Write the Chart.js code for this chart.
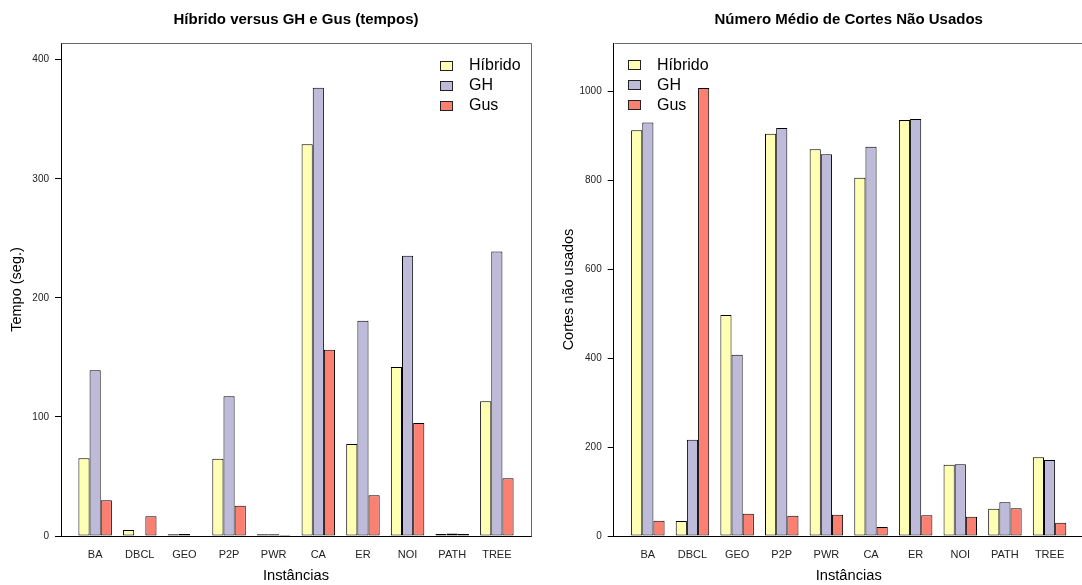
<!DOCTYPE html>
<html>
<head>
<meta charset="utf-8">
<script src="https://cdn.jsdelivr.net/npm/chart.js@4.4.1/dist/chart.umd.min.js"></script>
<style>
	html, body { margin: 0; padding: 0; background: #fff; overflow: hidden; width: 1082px; height: 585px; }
	#left { position: absolute; left: 0; top: 0; }
	#right { position: absolute; left: 541px; top: 0; }
</style>
</head>
<body>
<canvas id="left" width="541" height="585"></canvas>
<canvas id="right" width="560" height="585"></canvas>
<script>
const categories = ["BA", "DBCL", "GEO", "P2P", "PWR", "CA", "ER", "NOI", "PATH", "TREE"];
const seriesNames = ["Híbrido", "GH", "Gus"];

// tempos (seg.)
const tempoHibrido = [65.2, 5.0, 1.4, 64.9, 1.5, 328.9, 77.2, 141.9, 1.7, 113.1];
const tempoGH = [139.1, 0.5, 1.7, 117.3, 1.5, 376.4, 180.8, 235.3, 2.2, 239.0];
const tempoGus = [30.0, 16.5, 0.5, 25.5, 0.8, 156.4, 34.2, 94.9, 1.6, 48.4];
const tempoTicks = [0, 100, 200, 300, 400];

// cortes nao usados
const cortesHibrido = [912, 33.7, 496.6, 904, 869, 805, 935, 160, 61.4, 176.8];
const cortesGH = [929.6, 216.5, 407.5, 917, 857.7, 874.8, 937, 161, 75.7, 170.8];
const cortesGus = [34.4, 1007, 50.2, 45.7, 47.9, 20.2, 46.5, 43.4, 62.2, 30];
const cortesTicks = [0, 200, 400, 600, 800, 1000];

const colors = ["#FFFFB3", "#BEBADA", "#FB8072"];
const FONT = "'Liberation Sans', Arial, Helvetica, sans-serif";

// box around the plot region (top and right sides, like R's box())
const framePlugin = {
	id: "frame",
	afterDraw(chart) {
		const { ctx, chartArea } = chart;
		ctx.save();
		ctx.strokeStyle = "#666";
		ctx.lineWidth = 1;
		ctx.beginPath();
		ctx.moveTo(Math.round(chartArea.left) + 0.5, Math.round(chartArea.top) + 0.5);
		ctx.lineTo(Math.round(chartArea.right) + 0.5, Math.round(chartArea.top) + 0.5);
		ctx.lineTo(Math.round(chartArea.right) + 0.5, Math.round(chartArea.bottom) + 0.5);
		ctx.stroke();
		ctx.restore();
	},
};

const legendPlugin = {
	id: "rLegend",
	afterDraw(chart, args, opts) {
		const { ctx, chartArea } = chart;
		const x0 = opts.fromRight ? chartArea.right - opts.offset : chartArea.left + opts.offset;
		ctx.save();
		ctx.font = `16px ${FONT}`;
		ctx.textBaseline = "middle";
		ctx.textAlign = "left";
		chart.data.datasets.forEach((ds, k) => {
			const cy = chartArea.top + opts.top + k * 20;
			const bx = Math.round(x0) + 0.5;
			const by = Math.round(cy - 4.5) + 0.5;
			ctx.fillStyle = ds.backgroundColor;
			ctx.fillRect(bx, by, 12, 9);
			ctx.strokeStyle = "#222";
			ctx.lineWidth = 1;
			ctx.strokeRect(bx, by, 12, 9);
			ctx.fillStyle = "#000";
			ctx.fillText(ds.label, x0 + 29, cy + 1);
		});
		ctx.restore();
	},
};

function makeChart(canvasId, cfg) {
	return new Chart(document.getElementById(canvasId), {
		type: "bar",
		data: {
			datasets: cfg.series.map((values, k) => ({
				label: seriesNames[k],
				data: values.map((v, i) => ({ x: i, y: v })),
				backgroundColor: colors[k],
				borderColor: "#000",
				borderWidth: 1,
				borderSkipped: false,
				inflateAmount: 0,
				categoryPercentage: 0.75,
				barPercentage: 1,
			})),
		},
		options: {
			responsive: false,
			animation: false,
			layout: { padding: { left: 0, right: cfg.padRight, top: 0, bottom: 0 } },
			scales: {
				x: {
					type: "linear",
					offset: false,
					min: -0.765,
					max: 9.765,
					grid: { display: false, drawTicks: false },
					border: { display: true, color: "#000", width: 1 },
					afterBuildTicks(scale) {
						scale.ticks = categories.map((_, i) => ({ value: i }));
					},
					afterFit(scale) {
						scale.height = 49;
					},
					ticks: {
						autoSkip: false,
						maxRotation: 0,
						padding: 12,
						color: "#222",
						font: { family: FONT, size: 11 },
						callback: (v) => categories[v],
					},
					title: {
						display: true,
						text: "Instâncias",
						color: "#000",
						font: { family: FONT, size: 14.7 },
						padding: 0,
					},
				},
				y: {
					min: 0,
					max: cfg.yMax,
					grid: { display: true, drawOnChartArea: false, drawTicks: true, tickLength: 6, color: "#000" },
					border: { display: true, color: "#000", width: 1 },
					afterBuildTicks(scale) {
						scale.ticks = cfg.ticks.map((v) => ({ value: v }));
					},
					afterFit(scale) {
						scale.width = cfg.yWidth;
					},
					ticks: {
						padding: 6,
						color: "#222",
						font: { family: FONT, size: 10 },
						callback: (v) => String(v),
					},
					title: {
						display: true,
						text: cfg.yTitle,
						color: "#000",
						font: { family: FONT, size: 14.5 },
						padding: { top: cfg.yTitlePad, bottom: 0 },
					},
				},
			},
			plugins: {
				legend: { display: false },
				tooltip: { enabled: false },
				title: {
					display: true,
					text: cfg.title,
					fullSize: false,
					color: "#000",
					font: { family: FONT, size: 15, weight: "bold" },
					padding: { top: 11, bottom: 14 },
				},
				rLegend: cfg.legend,
			},
		},
		plugins: [framePlugin, legendPlugin],
	});
}

makeChart("left", {
	series: [tempoHibrido, tempoGH, tempoGus],
	ticks: tempoTicks,
	yMax: 414,
	yWidth: 61,
	padRight: 10,
	yTitle: "Tempo (seg.)",
	yTitlePad: 8.6,
	title: "Híbrido versus GH e Gus (tempos)",
	legend: { fromRight: true, offset: 91, top: 22 },
});

makeChart("right", {
	series: [cortesHibrido, cortesGH, cortesGus],
	ticks: cortesTicks,
	yMax: 1108,
	yWidth: 72.7,
	padRight: 17.3,
	yTitle: "Cortes não usados",
	yTitlePad: 19.6,
	title: "Número Médio de Cortes Não Usados",
	legend: { fromRight: false, offset: 14.3, top: 21.5 },
});
</script>
</body>
</html>
